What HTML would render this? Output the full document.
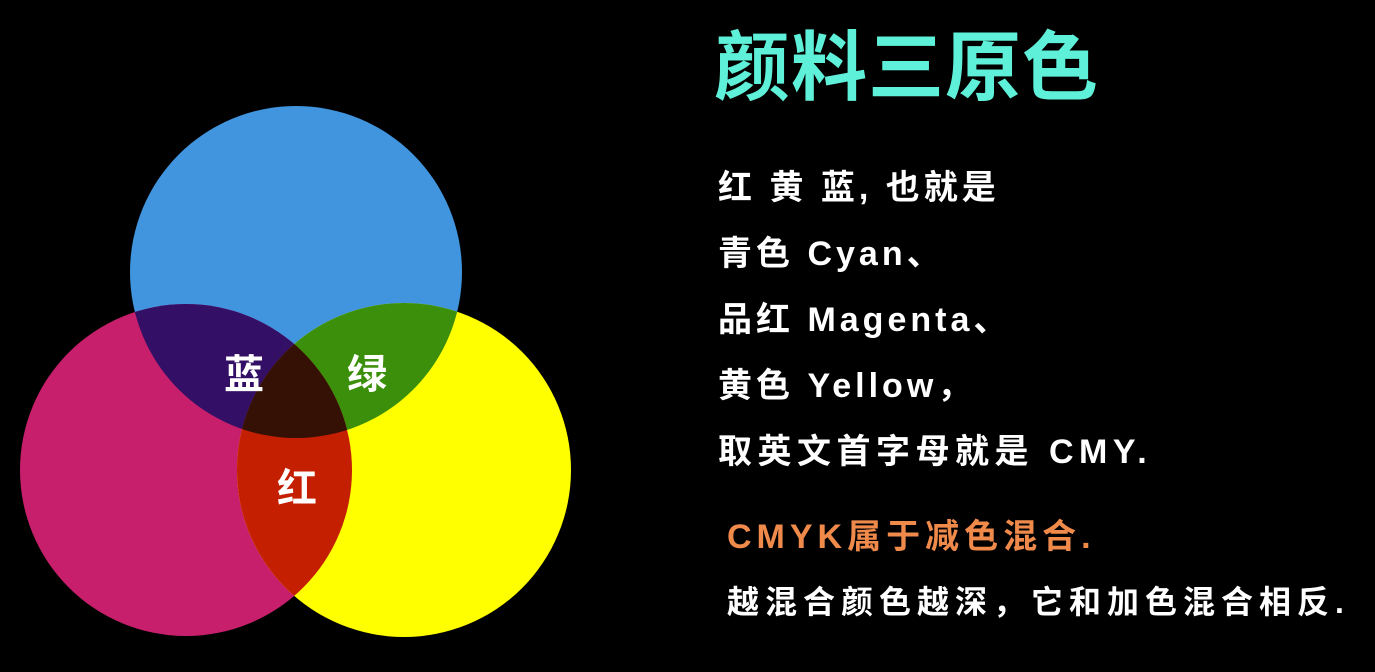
<!DOCTYPE html>
<html><head><meta charset="utf-8">
<style>
html,body{margin:0;padding:0;background:#000;}
body{width:1375px;height:672px;overflow:hidden;position:relative;font-family:"Liberation Sans","Noto Sans CJK SC",sans-serif;}
.t{position:absolute;white-space:nowrap;font-weight:bold;color:#fff;letter-spacing:4px;}
</style></head><body>
<svg id="venn" width="600" height="672" style="position:absolute;left:0;top:0">
<defs>
<clipPath id="cB"><circle cx="296" cy="272" r="166"/></clipPath>
<clipPath id="cM"><circle cx="186" cy="470" r="166"/></clipPath>
<clipPath id="cY"><circle cx="404" cy="470" r="167"/></clipPath>
</defs>
<circle cx="296" cy="272" r="166" fill="#4195df"/>
<circle cx="186" cy="470" r="166" fill="#c71f6c"/>
<circle cx="404" cy="470" r="167" fill="#ffff00"/>
<g clip-path="url(#cB)"><circle cx="186" cy="470" r="166" fill="#330f66"/></g>
<g clip-path="url(#cB)"><circle cx="404" cy="470" r="167" fill="#3b8f0a"/></g>
<g clip-path="url(#cM)"><circle cx="404" cy="470" r="167" fill="#c41f00"/></g>
<g clip-path="url(#cB)"><g clip-path="url(#cM)"><circle cx="404" cy="470" r="167" fill="#341005"/></g></g>
<text x="244" y="388" fill="#fff" font-size="40" font-weight="bold" text-anchor="middle" font-family="Liberation Sans, Noto Sans CJK SC, sans-serif">蓝</text>
<text x="367" y="388" fill="#fff" font-size="40" font-weight="bold" text-anchor="middle" font-family="Liberation Sans, Noto Sans CJK SC, sans-serif">绿</text>
<text x="297" y="502" fill="#fff" font-size="40" font-weight="bold" text-anchor="middle" font-family="Liberation Sans, Noto Sans CJK SC, sans-serif">红</text>
</svg>
<div class="t" style="left:714px;top:6px;font-size:76px;color:#5ef0d8;letter-spacing:1px;">颜料三原色</div>
<div class="t" style="left:718px;top:160px;font-size:34px;">红 黄 蓝, 也就是</div>
<div class="t" style="left:718px;top:226px;font-size:34px;">青色 Cyan、</div>
<div class="t" style="left:718px;top:292px;font-size:34px;">品红 Magenta、</div>
<div class="t" style="left:718px;top:358px;font-size:34px;">黄色 Yellow，</div>
<div class="t" style="left:718px;top:424px;font-size:34px;letter-spacing:5.5px;">取英文首字母就是 CMY.</div>
<div class="t" style="left:727px;top:509px;font-size:34px;color:#f08a4b;letter-spacing:5px;">CMYK属于减色混合.</div>
<div class="t" style="left:727px;top:577px;font-size:32px;letter-spacing:6px;">越混合颜色越深，它和加色混合相反.</div>
</body></html>
